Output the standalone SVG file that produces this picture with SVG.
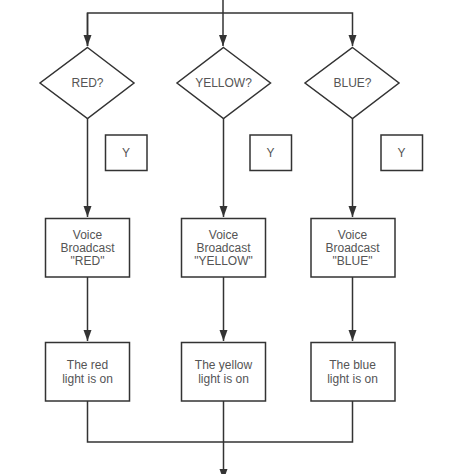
<svg xmlns="http://www.w3.org/2000/svg" width="474" height="474" viewBox="0 0 474 474">
<defs>
<marker id="arr" markerWidth="12" markerHeight="10" refX="11" refY="5" orient="auto" markerUnits="userSpaceOnUse">
<path d="M0,1 L11,5 L0,9 Z" fill="#333"/>
</marker>
<style>
.sh{fill:#fff;stroke:#333;stroke-width:1.5}
.ln{fill:none;stroke:#333;stroke-width:1.5}
.t{font-family:"Liberation Sans",Arial,sans-serif;font-size:12px;fill:#555;text-anchor:middle;dominant-baseline:central}
</style>
</defs>
<rect width="474" height="474" fill="#fff"/>
<g id="connectors">
<path class="ln" d="M223,0 V46" marker-end="url(#arr)"/>
<path class="ln" d="M87.5,46 V13 H352.5 V46" marker-end="url(#arr)"/>
<path class="ln" d="M87.5,13 V46" marker-end="url(#arr)"/>
<path class="ln" d="M87.5,118 V217" marker-end="url(#arr)"/>
<path class="ln" d="M223.5,118 V217" marker-end="url(#arr)"/>
<path class="ln" d="M352.5,118 V217" marker-end="url(#arr)"/>
<path class="ln" d="M87.5,277 V341" marker-end="url(#arr)"/>
<path class="ln" d="M223.5,277 V341" marker-end="url(#arr)"/>
<path class="ln" d="M352.5,277 V341" marker-end="url(#arr)"/>
<path class="ln" d="M87.5,401 V442 H352.5 V401"/>
<path class="ln" d="M223.5,401 V480" marker-end="url(#arr)"/>
</g>
<g id="red-q"><polygon class="sh" points="87.5,47.5 134,83 87.5,118.5 40,83"/><text class="t" x="87.5" y="83">RED?</text></g>
<g id="yellow-q"><polygon class="sh" points="223.5,47.5 270.5,83 223.5,118.5 177,83"/><text class="t" x="223.5" y="83">YELLOW?</text></g>
<g id="blue-q"><polygon class="sh" points="352.5,47.5 399,83 352.5,118.5 305,83"/><text class="t" x="352.5" y="83">BLUE?</text></g>
<g id="y1"><rect class="sh" x="105.5" y="135" width="41.5" height="35.5"/><text class="t" x="126" y="153">Y</text></g>
<g id="y2"><rect class="sh" x="250" y="135" width="41.5" height="35.5"/><text class="t" x="270.5" y="153">Y</text></g>
<g id="y3"><rect class="sh" x="381" y="135" width="41.5" height="35.5"/><text class="t" x="401.5" y="153">Y</text></g>
<g id="voice-red"><rect class="sh" x="45.5" y="218.5" width="84" height="58.5"/><text class="t" x="87.5" y="234.5">Voice</text><text class="t" x="87.5" y="247.5">Broadcast</text><text class="t" x="87.5" y="260.5">"RED"</text></g>
<g id="voice-yellow"><rect class="sh" x="181.5" y="218.5" width="84" height="58.5"/><text class="t" x="223.5" y="234.5">Voice</text><text class="t" x="223.5" y="247.5">Broadcast</text><text class="t" x="223.5" y="260.5">"YELLOW"</text></g>
<g id="voice-blue"><rect class="sh" x="311" y="218.5" width="84" height="58.5"/><text class="t" x="352.5" y="234.5">Voice</text><text class="t" x="352.5" y="247.5">Broadcast</text><text class="t" x="352.5" y="260.5">"BLUE"</text></g>
<g id="light-red"><rect class="sh" x="45.5" y="342.5" width="84" height="58.5"/><text class="t" x="87.5" y="365">The red</text><text class="t" x="87.5" y="378.5">light is on</text></g>
<g id="light-yellow"><rect class="sh" x="181.5" y="342.5" width="84" height="58.5"/><text class="t" x="223.5" y="365">The yellow</text><text class="t" x="223.5" y="378.5">light is on</text></g>
<g id="light-blue"><rect class="sh" x="311" y="342.5" width="84" height="58.5"/><text class="t" x="352.5" y="365">The blue</text><text class="t" x="352.5" y="378.5">light is on</text></g>
</svg>
